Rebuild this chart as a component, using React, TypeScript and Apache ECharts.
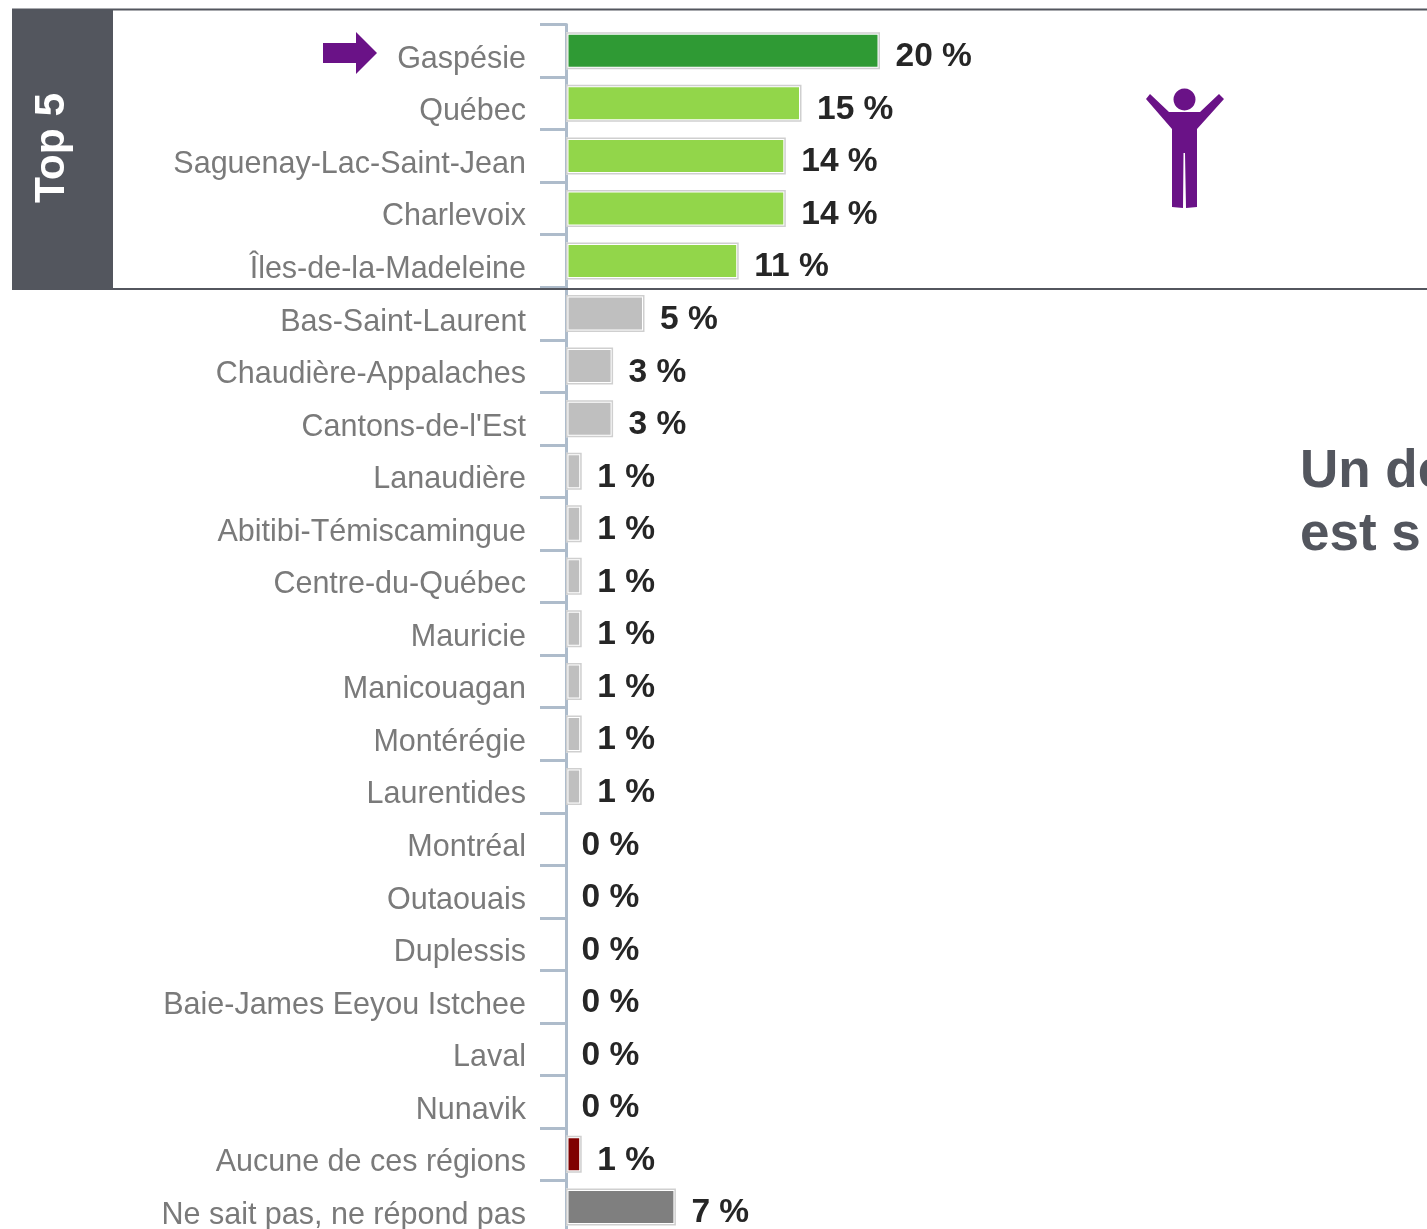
import React, { useEffect, useRef } from "react";
import * as echarts from "echarts";

const categories = ["Gaspésie","Québec","Saguenay-Lac-Saint-Jean","Charlevoix","Îles-de-la-Madeleine","Bas-Saint-Laurent","Chaudière-Appalaches","Cantons-de-l'Est","Lanaudière","Abitibi-Témiscamingue","Centre-du-Québec","Mauricie","Manicouagan","Montérégie","Laurentides","Montréal","Outaouais","Duplessis","Baie-James Eeyou Istchee","Laval","Nunavik","Aucune de ces régions","Ne sait pas, ne répond pas"];
const values = [20,15,14,14,11,5,3,3,1,1,1,1,1,1,1,0,0,0,0,0,0,1,7];
const barColors = ["#2f9a34","#92d64a","#92d64a","#92d64a","#92d64a","#bfbfbf","#bfbfbf","#bfbfbf","#bfbfbf","#bfbfbf","#bfbfbf","#bfbfbf","#bfbfbf","#bfbfbf","#bfbfbf","#bfbfbf","#bfbfbf","#bfbfbf","#bfbfbf","#bfbfbf","#bfbfbf","#800000","#7f7f7f"];
const sideTitle = "Top 5";
const sideLines = ["Un de", "est s"];
const PURPLE = "#6a1287";
const DARK = "#53565e";

export default function App() {
  const ref = useRef<HTMLDivElement>(null);
  useEffect(() => {
    const chart = echarts.init(ref.current!, undefined, { renderer: "svg" });
    chart.setOption({
      animation: false,
      backgroundColor: "#ffffff",
      grid: { left: 566, top: 24.5, width: 863.5, height: 1208.65, containLabel: false, outerBoundsMode: "none" },
      xAxis: { type: "value", min: 0, max: 55, show: false },
      yAxis: {
        type: "category", inverse: true, data: categories,
        axisLine: { show: true, lineStyle: { color: "#aebccb", width: 3 } },
        axisTick: { show: true, length: 26, lineStyle: { color: "#aebccb", width: 3 } },
        axisLabel: { color: "#7a7a7a", fontFamily: "Liberation Sans", fontSize: 30.5, margin: 40, verticalAlign: "top", lineHeight: 12 },
      },
      series: [
        {
          type: "bar", barWidth: 37, barGap: "-100%", silent: true,
          data: values.map((v, i) => ({
            value: v,
            itemStyle: { color: barColors[i], borderColor: "#ffffff", borderWidth: v === 0 ? 0 : 2.5 },
          })),
          label: {
            show: true, position: "right", distance: 15.5, offset: [0, 4], formatter: "{c} %",
            color: "#262626", fontFamily: "Liberation Sans", fontWeight: "bold", fontSize: 33.5,
          },
        },
        {
          type: "bar", barWidth: 37, barGap: "-100%", silent: true,
          data: values.map((v) => ({
            value: v,
            itemStyle: { color: "transparent", borderColor: "#cfcfcf", borderWidth: v === 0 ? 0 : 1.5 },
          })),
        },
      ],
      graphic: [
        { type: "rect", z: 5, shape: { x: 12, y: 9, width: 101, height: 281 }, style: { fill: DARK } },
        { type: "line", z: 5, shape: { x1: 12, y1: 9.5, x2: 1427, y2: 9.5 }, style: { stroke: DARK, lineWidth: 2 } },
        { type: "line", z: 5, shape: { x1: 12, y1: 289, x2: 1427, y2: 289 }, style: { stroke: DARK, lineWidth: 2 } },
        { type: "text", z: 6, x: 49, y: 148, rotation: Math.PI / 2, style: { text: sideTitle, fill: "#ffffff", fontFamily: "Liberation Sans", fontWeight: "bold", fontSize: 42.5, align: "center", verticalAlign: "middle" } },
        { type: "polygon", z: 6, shape: { points: [[323,43],[356,43],[356,32],[377,53],[356,74],[356,63],[323,63]] }, style: { fill: PURPLE } },
        { type: "circle", z: 6, shape: { cx: 1184.5, cy: 99.5, r: 11 }, style: { fill: PURPLE } },
        { type: "polygon", z: 6, shape: { points: [[1146,99],[1150,94],[1169,112],[1200,112],[1219,94],[1224,99],[1197,129],[1197,207],[1186,208],[1185,153],[1183.5,153],[1183,208],[1172,207],[1172,129]] }, style: { fill: PURPLE } },
        { type: "text", z: 6, x: 1300, y: 468, style: { text: sideLines[0], fill: DARK, fontFamily: "Liberation Sans", fontWeight: "bold", fontSize: 53, verticalAlign: "middle" } },
        { type: "text", z: 6, x: 1300, y: 531, style: { text: sideLines[1], fill: DARK, fontFamily: "Liberation Sans", fontWeight: "bold", fontSize: 53, verticalAlign: "middle" } },
      ],
    });
    return () => chart.dispose();
  }, []);
  return (
    <div style={{ position: "absolute", left: 0, top: 0, width: 1427, height: 1229, overflow: "hidden", background: "#fff" }}>
      <div ref={ref} style={{ width: 1427, height: 1229, filter: "blur(0.7px)" }} />
    </div>
  );
}
